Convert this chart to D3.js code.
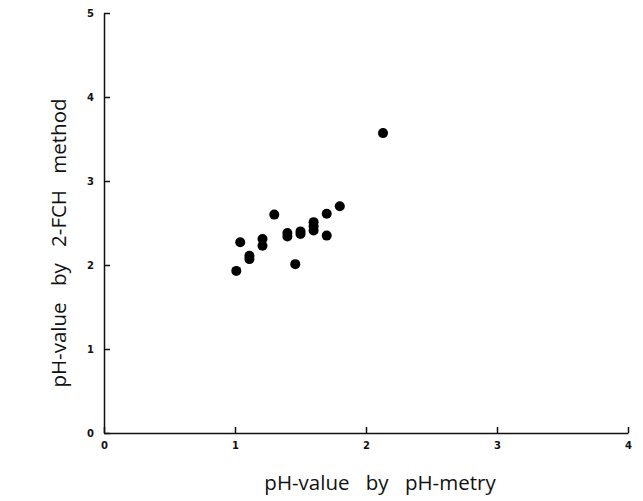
<!DOCTYPE html>
<html>
<head>
<meta charset="utf-8">
<script src="https://cdn.jsdelivr.net/npm/d3@7"></script>
<style>
  body { margin: 0; background: #fff; }
  .tick text { font-family: "DejaVu Sans", sans-serif; font-weight: bold; font-size: 10px; }
  .title { font-family: "Open Sans", sans-serif; font-size: 20.5px; fill: #111; word-spacing: 11px; }
</style>
</head>
<body>
<div id="chart"></div>
<script>
// pH-metry (x) vs 2-FCH method (y)
const phMetry = [1.01, 1.04, 1.11, 1.11, 1.21, 1.21, 1.30, 1.40, 1.40, 1.46, 1.50, 1.50, 1.60, 1.60, 1.60, 1.70, 1.70, 1.80, 2.13];
const phFch   = [1.93, 2.27, 2.11, 2.07, 2.31, 2.23, 2.60, 2.38, 2.34, 2.01, 2.40, 2.37, 2.51, 2.46, 2.41, 2.61, 2.35, 2.70, 3.57];
const xTicks = [0, 1, 2, 3, 4];
const yTicks = [0, 1, 2, 3, 4, 5];

const width = 643, height = 501;
const margin = { top: 13, right: 15, bottom: 68, left: 104 };

const svg = d3.select("#chart").append("svg")
  .attr("width", width)
  .attr("height", height);

const x = d3.scaleLinear().domain([0, 4]).range([margin.left, width - margin.right]);
const y = d3.scaleLinear().domain([0, 5]).range([height - margin.bottom, margin.top]);

//Axes, ticks pointing inward
const xAxis = svg.append("g")
  .attr("transform", `translate(0,${y(0)})`)
  .call(d3.axisBottom(x).tickValues(xTicks).tickFormat(d3.format("d")).tickSize(-6).tickSizeOuter(0).tickPadding(9));
const yAxis = svg.append("g")
  .attr("transform", `translate(${x(0)},0)`)
  .call(d3.axisLeft(y).tickValues(yTicks).tickFormat(d3.format("d")).tickSize(-6).tickSizeOuter(0).tickPadding(10));

[xAxis, yAxis].forEach(g => {
  g.select(".domain").attr("stroke", "#111").attr("stroke-width", 1.5);
  g.selectAll(".tick line").attr("stroke", "#111").attr("stroke-width", 1.5);
  g.selectAll(".tick text").attr("fill", "#111");
});

//Points
svg.append("g")
  .selectAll("circle")
  .data(phMetry.map((d, i) => [d, phFch[i]]))
  .join("circle")
  .attr("cx", d => x(d[0]))
  .attr("cy", d => y(d[1]))
  .attr("r", 5)
  .attr("fill", "#000");

//Axis titles
svg.append("text")
  .attr("class", "title")
  .attr("x", 380)
  .attr("y", 490)
  .attr("text-anchor", "middle")
  .text("pH-value by pH-metry");

svg.append("text")
  .attr("class", "title")
  .attr("transform", "translate(66,243) rotate(-90)")
  .attr("text-anchor", "middle")
  .text("pH-value by 2-FCH method");
</script>
</body>
</html>
